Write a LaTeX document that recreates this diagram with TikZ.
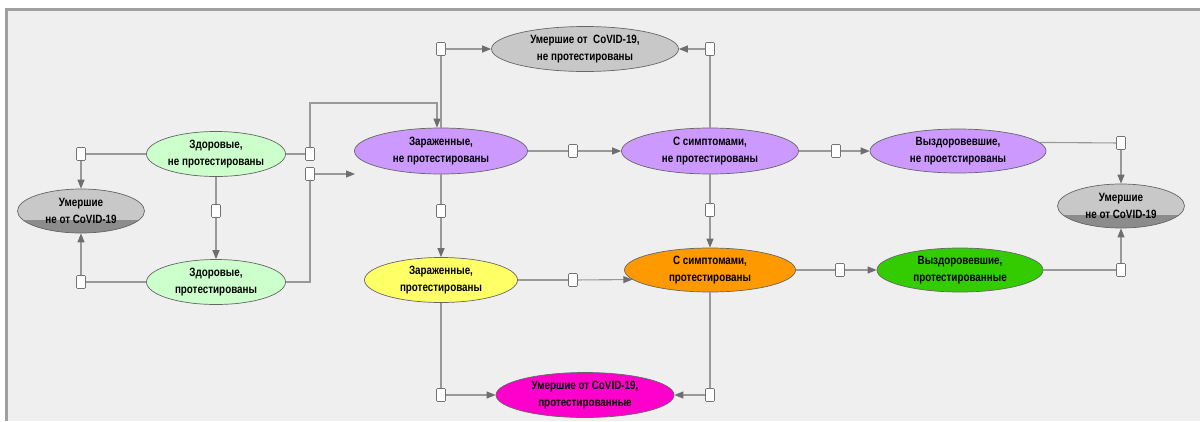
\documentclass[tikz,border=0pt]{standalone}
\usepackage{fontspec}
\setmainfont{Liberation Sans}
\newfontfamily\nf[FakeStretch=0.82]{Liberation Sans}
\usetikzlibrary{shapes.geometric,arrows.meta,calc}
\definecolor{bgc}{HTML}{EFEFEF}
\definecolor{framec}{HTML}{A0A0A0}
\definecolor{hz}{HTML}{CCFFCC}
\definecolor{pu}{HTML}{CC99FF}
\definecolor{ye}{HTML}{FFFF66}
\definecolor{orc}{HTML}{FF9900}
\definecolor{gnc}{HTML}{33CC00}
\definecolor{mgc}{HTML}{FF00CC}
\definecolor{lgr}{HTML}{C8C8C8}
\definecolor{dgr}{HTML}{8C8C8C}
\definecolor{linec}{HTML}{999999}
\definecolor{tipc}{HTML}{6E6E6E}
\begin{document}
\begin{tikzpicture}[x=1pt,y=-1pt,
  el/.style 2 args={ellipse, draw=black!60, line width=0.7pt, inner sep=0pt,
    minimum width=#1pt, minimum height=#2pt, align=center,
    font=\nf\bfseries\fontsize{12}{16.5}\selectfont},
  deadnc/.style={fill=lgr, path picture={\fill[dgr] ([yshift=-9pt]path picture bounding box.west) rectangle (path picture bounding box.south east);}},
  valve/.style={draw=black!55, fill=white, line width=0.6pt, minimum width=9pt,
    minimum height=13pt, inner sep=0pt, rounded corners=1pt},
  conn/.style={draw=linec, line width=1.1pt},
  arr/.style={conn, -{Triangle[length=9pt,width=7pt,color=tipc]}}]
\useasboundingbox (0,0) rectangle (1200,421);
\fill[white] (0,0) rectangle (1200,421);
\fill[bgc] (7,9) rectangle (1200,421);
\draw[framec, line width=3pt] (6.5,421) -- (6.5,9.5) -- (1200,9.5);

% states
\node[el={139}{45}, fill=hz] (Z1) at (216,154) {Здоровые,\\не протестированы};
\node[el={139}{45}, fill=hz] (Z2) at (216,282) {Здоровые,\\протестированы};
\node[el={127}{44}, deadnc] (D1) at (81,211) {Умершие\\не от CoVID-19};
\node[el={173}{46}, fill=pu] (I1) at (441,151) {Зараженные,\\не протестированы};
\node[el={187}{45}, fill=lgr] (DC1) at (585,49) {Умершие от\ \ CoVID-19,\\не протестированы};
\node[el={177}{46}, fill=pu] (S1) at (710,151) {С симптомами,\\не протестированы};
\node[el={176}{44}, fill=pu] (R1) at (958,151) {Выздоровевшие,\\не проетстированы};
\node[el={127}{44}, deadnc] (D2) at (1121,206) {Умершие\\не от CoVID-19};
\node[el={153}{45}, fill=ye] (I2) at (441,280) {Зараженные,\\протестированы};
\node[el={171}{44}, fill=orc] (S2) at (710,270) {С симптомами,\\протестированы};
\node[el={166}{44}, fill=gnc] (R2) at (960,270) {Выздоровевшие,\\протестированные};
\node[el={178}{45}, fill=mgc] (DC2) at (585,395) {Умершие от CoVID-19,\\протестированные};

% valves
\node[valve] (v1) at (81,154) {};
\node[valve] (v2) at (81,282) {};
\node[valve] (v3) at (216,211) {};
\node[valve] (v4) at (310,154) {};
\node[valve] (v5) at (310,174) {};
\node[valve] (v6) at (441,49) {};
\node[valve] (v7) at (710,49) {};
\node[valve] (v8) at (573,151) {};
\node[valve] (v9) at (836,151) {};
\node[valve] (v10) at (1121,143) {};
\node[valve] (v11) at (1121,270) {};
\node[valve] (v12) at (441,211) {};
\node[valve] (v13) at (710,210) {};
\node[valve] (v14) at (573,280) {};
\node[valve] (v15) at (840,270) {};
\node[valve] (v16) at (441,395) {};
\node[valve] (v17) at (710,395) {};

\coordinate (b1) at (437,103);
\coordinate (t5) at (355,174);

% flows
\draw[conn] (Z1) -- (v1);  \draw[arr] (v1) -- (D1);
\draw[conn] (Z2) -- (v2);  \draw[arr] (v2) -- (D1);
\draw[conn] (Z1) -- (v3);  \draw[arr] (v3) -- (Z2);
\draw[conn] (Z1) -- (v4);  \draw[arr] (v4.north) |- (b1) -- (b1 |- I1.north);
\draw[conn] (Z2) -| (v5);  \draw[arr] (v5) -- (t5);
\draw[conn] (I1) -- (v6);  \draw[arr] (v6) -- (DC1);
\draw[conn] (S1) -- (v7);  \draw[arr] (v7) -- (DC1);
\draw[conn] (I1) -- (v8);  \draw[arr] (v8) -- (S1);
\draw[conn] (S1) -- (v9);  \draw[arr] (v9) -- (R1);
\draw[conn] (R1.6) -- (v10); \draw[arr] (v10) -- (D2);
\draw[conn] (R2) -- (v11); \draw[arr] (v11) -- (D2);
\draw[conn] (I1) -- (v12); \draw[arr] (v12) -- (I2);
\draw[conn] (S1) -- (v13); \draw[arr] (v13) -- (S2);
\draw[conn] (I2) -- (v14); \draw[arr] (v14) -- (S2.187);
\draw[conn] (S2) -- (v15); \draw[arr] (v15) -- (R2);
\draw[conn] (I2) -- (v16); \draw[arr] (v16) -- (DC2);
\draw[conn] (S2) -- (v17); \draw[arr] (v17) -- (DC2);
\end{tikzpicture}
\end{document}
